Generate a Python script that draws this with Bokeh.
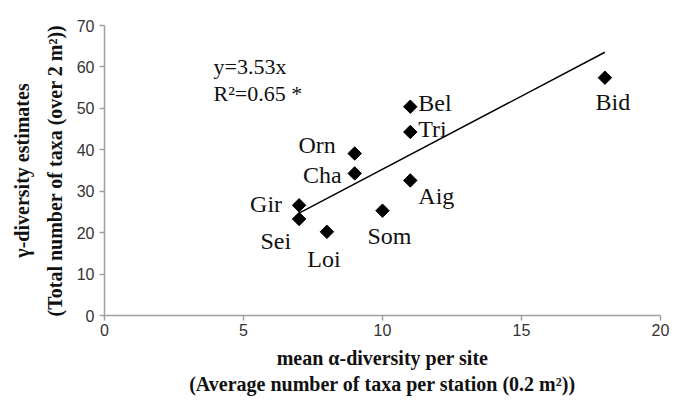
import numpy as np
from bokeh.plotting import figure
from bokeh.models import ColumnDataSource, LabelSet, Label, Range1d, FixedTicker
from bokeh.embed import file_html
from bokeh.resources import INLINE

# Data
sites = ["Gir", "Sei", "Loi", "Som", "Cha", "Orn", "Aig", "Tri", "Bel", "Bid"]
alpha = [7, 7, 8, 10, 9, 9, 11, 11, 11, 18]
gamma = [26.6, 23.3, 20.2, 25.3, 34.3, 39.1, 32.6, 44.3, 50.4, 57.4]
slope = 3.53
eq_text = "y=3.53x"
r2_text = "R²=0.65 *"
x_ticks = [0, 5, 10, 15, 20]
y_ticks = [0, 10, 20, 30, 40, 50, 60, 70]

# label placement (pixels, y up) and alignment
lab_dx = [-17, -8, -3, 7, -13, -19, 8, 8, 8, 8]
lab_dy = [1, -22, -27, -25, -2, 9, -16, 3, 4, -24]
lab_align = ["right", "right", "center", "center", "right", "right", "left", "left", "left", "center"]

serif = "Liberation Serif"

p = figure(width=678, height=399, output_backend="svg", toolbar_location=None,
           x_range=Range1d(0, 20), y_range=Range1d(0, 70),
           min_border_left=104, min_border_right=18, min_border_top=25, min_border_bottom=84)
p.outline_line_color = None
p.grid.grid_line_color = None
p.background_fill_color = "white"
p.border_fill_color = "white"

for ax in (p.xaxis[0], p.yaxis[0]):
    ax.axis_line_color = "#a0a0a0"
    ax.axis_line_width = 1.5
    ax.major_tick_line_color = "#a0a0a0"
    ax.major_tick_line_width = 1.5
    ax.minor_tick_line_color = None
    ax.major_tick_in = 0
    ax.major_tick_out = 5
    ax.major_label_text_font = "Liberation Sans"
    ax.major_label_text_font_size = "16px"
    ax.major_label_text_color = "#333333"
    ax.axis_label_text_font = serif
    ax.axis_label_text_font_style = "bold"
    ax.axis_label_text_font_size = "20px"
    ax.axis_label_text_color = "#111111"

p.xaxis.ticker = FixedTicker(ticks=x_ticks)
p.yaxis.ticker = FixedTicker(ticks=y_ticks)
p.xaxis.axis_label = "mean α-diversity per site\n(Average number of taxa per station (0.2 m²))"
p.yaxis.axis_label = "γ-diversity estimates\n(Total number of taxa (over 2 m²))"
p.xaxis.axis_label_text_line_height = 1.2
p.yaxis.axis_label_text_line_height = 1.5
p.xaxis.axis_label_standoff = 8
p.yaxis.axis_label_standoff = 8
p.xaxis.major_label_standoff = 3
p.yaxis.major_label_standoff = 5

# trend line through origin over the observed alpha range
xs = [min(alpha), max(alpha)]
ys = [slope * v for v in xs]
p.line(xs, ys, line_color="black", line_width=1.5)

src = ColumnDataSource(dict(x=alpha, y=gamma, name=sites, dx=lab_dx, dy=lab_dy, align=lab_align))
p.scatter("x", "y", source=src, marker="square", angle=np.pi / 4, size=9.5,
          fill_color="black", line_color="black")

labels = LabelSet(x="x", y="y", text="name", source=src, x_offset="dx", y_offset="dy",
                  text_align="align", text_baseline="middle",
                  text_font=serif, text_font_size="24px", text_color="#111111")
p.add_layout(labels)

p.add_layout(Label(x=3.92, y=60.2, text=eq_text, text_font=serif, text_font_size="22px",
                   text_baseline="middle", text_color="#111111"))
p.add_layout(Label(x=3.92, y=53.6, text=r2_text, text_font=serif, text_font_size="22px",
                   text_baseline="middle", text_color="#111111"))

open("out.html", "w").write(file_html(p, INLINE))
